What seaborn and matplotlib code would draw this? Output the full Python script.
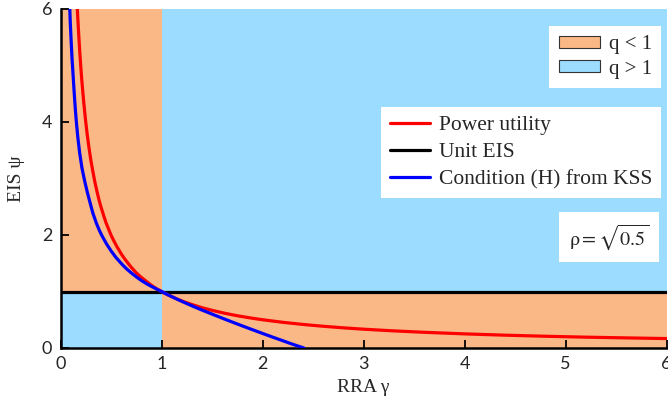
import numpy as np
import pandas as pd
import seaborn as sns
import matplotlib
matplotlib.use("Agg")
import matplotlib.pyplot as plt
from matplotlib.patches import Patch
from matplotlib.lines import Line2D

# Power utility: psi = 1/gamma
gamma_power = [0.165, 0.17, 0.18, 0.19, 0.2, 0.21, 0.22, 0.235, 0.25, 0.265, 0.28, 0.3,
               0.32, 0.34, 0.36, 0.38, 0.4, 0.43, 0.45, 0.475, 0.5, 0.53, 0.56, 0.6,
               0.63, 0.66, 0.7, 0.75, 0.8, 0.85, 0.9, 0.95, 1.0, 1.07, 1.15, 1.22,
               1.3, 1.4, 1.5, 1.62, 1.75, 1.87, 2.0, 2.2, 2.4, 2.6, 2.8, 3.0, 3.3,
               3.6, 4.0, 4.4, 4.8, 5.2, 5.6, 6.0]
psi_power = [6.06, 5.88, 5.56, 5.26, 5.0, 4.76, 4.55, 4.26, 4.0, 3.77, 3.57, 3.33,
             3.13, 2.94, 2.78, 2.63, 2.5, 2.33, 2.22, 2.11, 2.0, 1.89, 1.79, 1.67,
             1.59, 1.52, 1.43, 1.33, 1.25, 1.18, 1.11, 1.05, 1.0, 0.935, 0.87, 0.82,
             0.77, 0.714, 0.667, 0.617, 0.571, 0.535, 0.5, 0.455, 0.417, 0.385, 0.357, 0.333, 0.303,
             0.278, 0.25, 0.227, 0.208, 0.192, 0.179, 0.167]

# Condition (H) from KSS, rho = sqrt(0.5)
gamma_kss = [0.09, 0.097, 0.105, 0.114, 0.124, 0.132, 0.14, 0.148, 0.157, 0.172,
             0.19, 0.213, 0.24, 0.265, 0.29, 0.32, 0.355, 0.385, 0.414, 0.455, 0.5,
             0.55, 0.61, 0.655, 0.7, 0.75, 0.8, 0.85, 0.9, 0.95, 1.0, 1.06, 1.12,
             1.18, 1.25, 1.32, 1.4, 1.5, 1.62, 1.75, 1.87, 2.0, 2.1, 2.2, 2.31, 2.41]
psi_kss = [6.1, 5.75, 5.45, 5.13, 4.85, 4.62, 4.4, 4.2, 4.0, 3.72,
           3.45, 3.18, 2.95, 2.76, 2.59, 2.39, 2.21, 2.08, 1.975, 1.845, 1.72,
           1.6, 1.48, 1.4, 1.33, 1.26, 1.195, 1.14, 1.09, 1.045, 1.0, 0.945, 0.893,
           0.843, 0.787, 0.732, 0.672, 0.6, 0.515, 0.425, 0.344, 0.258, 0.193, 0.129, 0.059, 0.0]

# Unit EIS
gamma_unit = [0.0, 6.0]
psi_unit = [1.0, 1.0]

# Region boundaries
gamma_split = 1.0
psi_split = 1.0
x_max = 6.0
y_max = 6.0

orange = "#F9B886"
light_blue = "#9CDCFE"

sns.set_style("ticks")
plt.rcParams["font.family"] = ["Liberation Serif", "DejaVu Serif"]
plt.rcParams["mathtext.fontset"] = "stix"

fig = plt.figure(figsize=(6.68, 4.08), dpi=100)
ax = fig.add_axes([60.5 / 668, 1 - 348 / 408, 606 / 668, 339 / 408])

# Shaded regions for q < 1 and q > 1
ax.fill_between([0, gamma_split], psi_split, y_max, color=orange, lw=0, zorder=0)
ax.fill_between([gamma_split, x_max], 0, psi_split, color=orange, lw=0, zorder=0)
ax.fill_between([0, gamma_split], 0, psi_split, color=light_blue, lw=0, zorder=0)
ax.fill_between([gamma_split, x_max], psi_split, y_max, color=light_blue, lw=0, zorder=0)

lw = 2.3
sns.lineplot(x=gamma_unit, y=psi_unit, ax=ax, color="black", lw=lw, sort=False, zorder=3)
sns.lineplot(x=gamma_power, y=psi_power, ax=ax, color="#FF0000", lw=lw, sort=False, zorder=4)
sns.lineplot(x=gamma_kss, y=psi_kss, ax=ax, color="#0000FF", lw=lw, sort=False, zorder=5)

ax.set_xlim(0, x_max)
ax.set_ylim(0, y_max)
ax.set_xticks([0, 1, 2, 3, 4, 5, 6])
ax.set_yticks([0, 2, 4, 6])
ax.tick_params(direction="in", length=6, width=1.3, pad=6, labelsize=13, color="black")
for lab in ax.get_xticklabels() + ax.get_yticklabels():
    lab.set_family(["Lato", "DejaVu Sans"])

for side in ["top", "right"]:
    ax.spines[side].set_visible(False)
for side in ["left", "bottom"]:
    ax.spines[side].set_linewidth(1.8)
    ax.spines[side].set_color("black")

ax.set_xlabel("RRA γ", fontsize=14, labelpad=5)
ax.set_ylabel("EIS ψ", fontsize=14, labelpad=12)

# Legend for the regions
region_handles = [Patch(facecolor=orange, edgecolor="#333333", lw=0.8, label="q < 1"),
                  Patch(facecolor=light_blue, edgecolor="#333333", lw=0.8, label="q > 1")]
leg1 = ax.legend(handles=region_handles, loc="upper right", bbox_to_anchor=(0.991, 0.95),
                 borderaxespad=0, frameon=True, fancybox=False, framealpha=1,
                 edgecolor="white", handlelength=2.0, handleheight=0.55,
                 borderpad=0.45, labelspacing=0.25, handletextpad=0.4,
                 prop={"size": 15})
leg1.get_frame().set_linewidth(0)
ax.add_artist(leg1)

# Legend for the curves
curve_handles = [Line2D([], [], color="#FF0000", lw=lw, label="Power utility"),
                 Line2D([], [], color="black", lw=lw, label="Unit EIS"),
                 Line2D([], [], color="#0000FF", lw=lw, label="Condition (H) from KSS")]
leg2 = ax.legend(handles=curve_handles, loc="upper right", bbox_to_anchor=(0.991, 0.712),
                 borderaxespad=0, frameon=True, fancybox=False, framealpha=1,
                 edgecolor="white", handlelength=1.9, borderpad=0.4,
                 labelspacing=0.32, handletextpad=0.4, prop={"size": 15.5})
leg2.get_frame().set_linewidth(0)

ax.text(0.905, 0.327, r"$\mathrm{\rho} = \sqrt{0.5}$", transform=ax.transAxes,
        ha="center", va="center", fontsize=14.5,
        bbox=dict(boxstyle="square,pad=0.5", fc="white", ec="none"), zorder=10)

fig.savefig("out.png", dpi=100)
